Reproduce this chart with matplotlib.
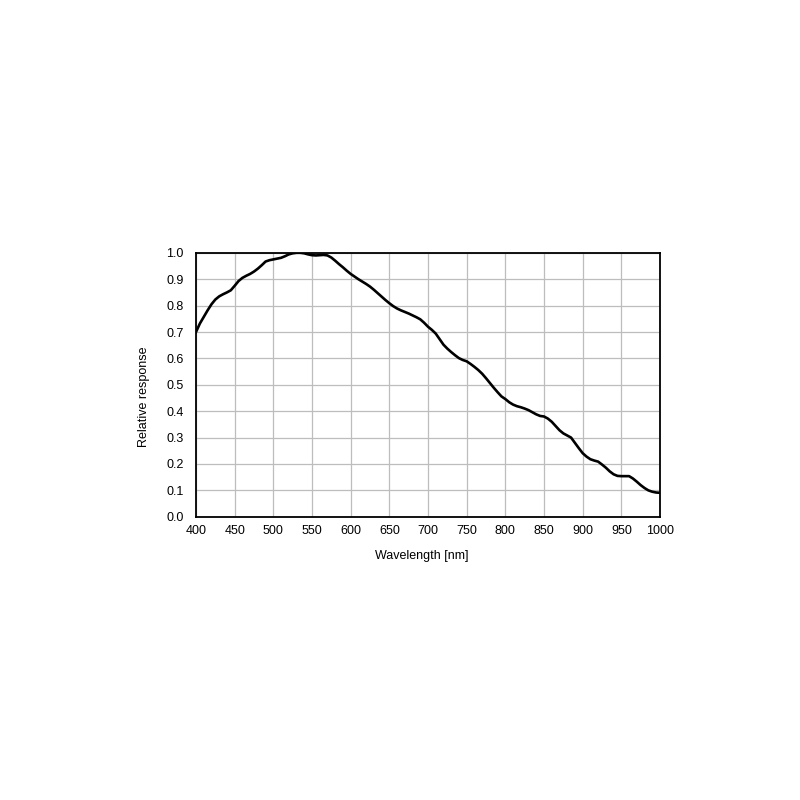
import matplotlib

matplotlib.use("Agg")
import matplotlib.pyplot as plt

plt.rcParams["font.family"] = ["Liberation Sans", "DejaVu Sans"]

# relative response, every 5 nm
wavelength = list(range(400, 1001, 5))
response = [
    0.700, 0.732, 0.757, 0.782, 0.805, 0.823, 0.835, 0.843, 0.850, 0.858,  # 400-445
    0.875, 0.893, 0.905, 0.913, 0.920, 0.929, 0.940, 0.953, 0.967, 0.972,  # 450-495
    0.975, 0.978, 0.981, 0.987, 0.994, 0.998, 1.000, 1.000, 0.998, 0.994,  # 500-545
    0.991, 0.990, 0.991, 0.992, 0.990, 0.982, 0.970, 0.957, 0.945, 0.932,  # 550-595
    0.920, 0.910, 0.900, 0.891, 0.882, 0.872, 0.860, 0.847, 0.834, 0.821,  # 600-645
    0.809, 0.798, 0.789, 0.782, 0.776, 0.770, 0.763, 0.756, 0.748, 0.735,  # 650-695
    0.720, 0.708, 0.694, 0.673, 0.652, 0.637, 0.624, 0.612, 0.601, 0.594,  # 700-745
    0.589, 0.579, 0.568, 0.556, 0.542, 0.525, 0.507, 0.489, 0.472, 0.456,  # 750-795
    0.446, 0.434, 0.425, 0.419, 0.415, 0.410, 0.404, 0.396, 0.388, 0.382,  # 800-845
    0.380, 0.372, 0.360, 0.344, 0.328, 0.316, 0.308, 0.300, 0.280, 0.260,  # 850-895
    0.241, 0.228, 0.218, 0.213, 0.209, 0.198, 0.186, 0.172, 0.161, 0.155,  # 900-945
    0.154, 0.154, 0.154, 0.145, 0.133, 0.120, 0.109, 0.100, 0.095, 0.092,  # 950-995
    0.091,  # 1000
]
xticks = list(range(400, 1001, 50))
yticks = [i / 10 for i in range(11)]

fig = plt.figure(figsize=(8, 8), dpi=100)
ax = fig.add_axes([0.245, 0.354, 0.58, 0.33])
ax.plot(wavelength, response, color="black", lw=1.9, solid_joinstyle="round")

ax.set_xlim(400, 1000)
ax.set_ylim(0, 1.0)
ax.set_xticks(xticks)
ax.set_yticks(yticks)
ax.set_yticklabels([f"{v:.1f}" for v in yticks])
ax.grid(True, color="#bdbdbd", lw=0.9)
ax.set_axisbelow(True)
for s in ax.spines.values():
    s.set_linewidth(1.3)
ax.tick_params(length=0, labelsize=9)
ax.tick_params(axis="y", pad=9)
ax.tick_params(axis="x", pad=6)
ax.set_xlabel("Wavelength [nm]", fontsize=9)
ax.set_ylabel("Relative response", fontsize=9)
ax.xaxis.set_label_coords(0.487, -0.125)
ax.yaxis.set_label_coords(-0.10, 0.455)

fig.savefig("out.png", dpi=100)
